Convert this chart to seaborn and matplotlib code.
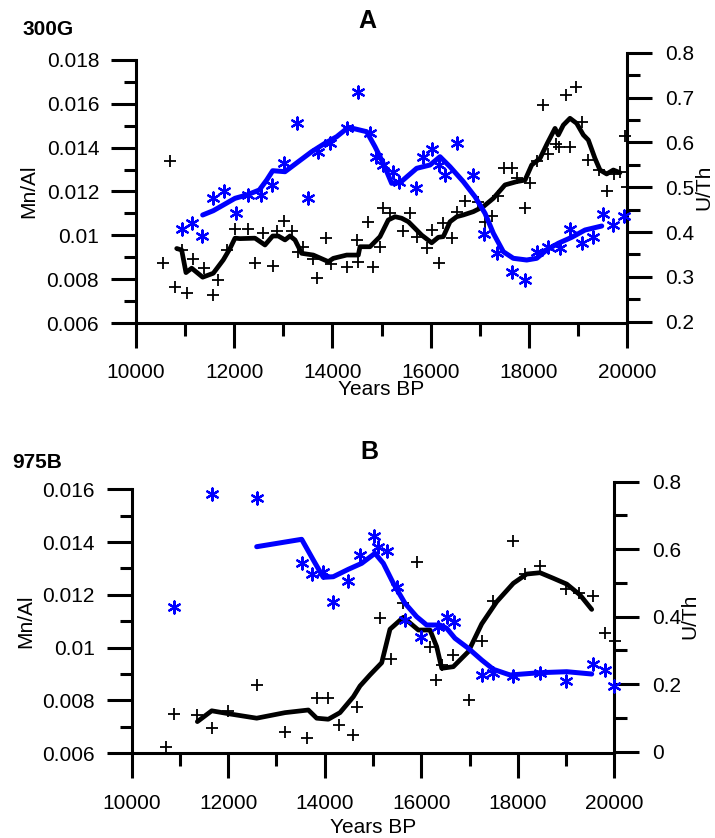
import matplotlib
matplotlib.use("Agg")
import matplotlib.pyplot as plt
from matplotlib.ticker import MultipleLocator, FormatStrFormatter
import seaborn as sns

# ---- panel A (300G) ----
a_mn_yr = [10556, 10692, 10794, 10930, 11032, 11154, 11385, 11574, 11676, 11847,
           12016, 12287, 12424, 12593, 12784, 12866, 13014, 13171, 13293, 13407,
           13611, 13693, 13870, 13971, 14291, 14495, 14528, 14730, 14820, 14969,
           15036, 15173, 15444, 15580, 15716, 15920, 16022, 16177, 16259, 16430,
           16532, 16700, 16972, 17108, 17244, 17379, 17495, 17651, 17753, 17923,
           18024, 18161, 18282, 18397, 18554, 18621, 18758, 18839, 18961, 19077,
           19212, 19436, 19599, 19735, 19857, 19959, 19993]
a_mn = [0.00872, 0.01339, 0.00766, 0.00933, 0.00738, 0.00891, 0.0085, 0.00728, 0.00796, 0.00933,
        0.01028, 0.0103, 0.00872, 0.0101, 0.00862, 0.01021, 0.01065, 0.01021, 0.00925, 0.00945,
        0.00891, 0.00804, 0.00988, 0.00869, 0.00857, 0.00979, 0.0088, 0.01062, 0.00857, 0.00948,
        0.01123, 0.011, 0.01021, 0.011, 0.00994, 0.00941, 0.01024, 0.00872, 0.01055, 0.00987,
        0.01108, 0.01158, 0.01153, 0.01062, 0.01088, 0.0118, 0.01306, 0.01306, 0.0126, 0.01123,
        0.0124, 0.01341, 0.01595, 0.01371, 0.01417, 0.01404, 0.0164, 0.01404, 0.01678, 0.01519,
        0.01344, 0.01298, 0.01204, 0.0128, 0.0129, 0.01453, 0.01222]
a_mn_line_yr = [10829, 10930, 11018, 11134, 11358, 11574, 11778, 11914, 12016, 12117,
                12424, 12627, 12784, 12898, 13035, 13136, 13238, 13374, 13611, 13917,
                14019, 14291, 14528, 14562, 14766, 14969, 15036, 15138, 15275, 15411,
                15547, 15716, 15818, 16022, 16157, 16259, 16395, 16532, 16667, 16870,
                17074, 17278, 17515, 17753, 17923, 18059, 18228, 18377, 18534, 18601,
                18703, 18839, 18975, 19111, 19212, 19348, 19450, 19586, 19721, 19857]
a_mn_line = [0.0094, 0.00933, 0.0083, 0.0085, 0.00809, 0.00827, 0.00888, 0.0094, 0.00987, 0.00985,
             0.00987, 0.00956, 0.00997, 0.00997, 0.00979, 0.00997, 0.00979, 0.00918, 0.0091, 0.0088,
             0.00895, 0.0091, 0.0091, 0.00948, 0.00948, 0.00994, 0.01024, 0.0107, 0.01085, 0.01078,
             0.01062, 0.01024, 0.01001, 0.00966, 0.00991, 0.00994, 0.01062, 0.01085, 0.01093, 0.01108,
             0.01131, 0.01169, 0.0123, 0.01245, 0.01252, 0.01321, 0.01351, 0.0142, 0.01488, 0.01458,
             0.01503, 0.01534, 0.01511, 0.01458, 0.01435, 0.01351, 0.01298, 0.0128, 0.01298, 0.01286]
a_uth_yr = [10930, 11147, 11338, 11562, 11792, 12030, 12287, 12546, 12764, 13014,
            13269, 13493, 13707, 13951, 14291, 14528, 14766, 14888, 15036, 15227,
            15363, 15702, 15838, 16022, 16177, 16293, 16545, 16857, 17088, 17359,
            17651, 17923, 18173, 18397, 18635, 18839, 19077, 19300, 19504, 19721, 19939]
a_uth = [0.406, 0.4195, 0.391, 0.4752, 0.4915, 0.4431, 0.4826, 0.4826, 0.5049, 0.5547,
         0.6439, 0.4766, 0.5792, 0.5993, 0.6314, 0.713, 0.6202, 0.568, 0.5495, 0.5346,
         0.5123, 0.4975, 0.568, 0.5845, 0.5495, 0.5272, 0.5993, 0.5272, 0.395, 0.3526,
         0.3115, 0.293, 0.3561, 0.3659, 0.3637, 0.406, 0.3762, 0.3882, 0.4402, 0.4157, 0.4357]
a_uth_line_yr = [11358, 11574, 11778, 12016, 12254, 12511, 12662, 12784, 13035, 13306,
                 13578, 13849, 14088, 14325, 14698, 14868, 15036, 15207, 15377, 15716,
                 15988, 16191, 16395, 16667, 16904, 17108, 17278, 17481, 17685, 17957,
                 18161, 18364, 18601, 18873, 19145, 19485]
a_uth_line = [0.438, 0.4476, 0.4603, 0.4752, 0.4826, 0.4937, 0.516, 0.5368, 0.5346, 0.5569,
              0.5792, 0.598, 0.6127, 0.6336, 0.6238, 0.5903, 0.5533, 0.5087, 0.51, 0.5421,
              0.5495, 0.568, 0.5457, 0.5123, 0.4788, 0.4418, 0.3972, 0.3561, 0.3414, 0.3376,
              0.3414, 0.36, 0.3749, 0.3882, 0.4045, 0.4134]

# ---- panel B (975B) ----
b_mn_yr = [10711, 10877, 11360, 11658, 12002, 12590, 13177, 13639, 13846, 14074,
           14302, 14592, 14662, 15145, 15367, 15628, 15918, 16181, 16299, 16424,
           16664, 16995, 17252, 17480, 17895, 18150, 18461, 18999, 19275, 19552,
           19807, 20015]
b_mn = [0.00625, 0.00749, 0.00745, 0.00695, 0.00761, 0.00859, 0.00682, 0.00657, 0.00808, 0.00808,
        0.00707, 0.00669, 0.00777, 0.01111, 0.00956, 0.01168, 0.01326, 0.01002, 0.00878, 0.00934,
        0.00972, 0.00802, 0.01025, 0.01178, 0.01405, 0.01279, 0.0131, 0.01221, 0.01206, 0.01196,
        0.01057, 0.01027]
b_mn_line_yr = [11360, 11658, 12037, 12590, 13177, 13660, 13833, 14074, 14316, 14592,
                14731, 14938, 15180, 15352, 15628, 15939, 16181, 16319, 16424, 16664,
                16975, 17252, 17563, 17908, 18184, 18461, 18736, 19014, 19289, 19532]
b_mn_line = [0.0072, 0.00761, 0.00749, 0.00733, 0.00754, 0.00764, 0.00733, 0.00729, 0.00754, 0.00814,
             0.00855, 0.00897, 0.00943, 0.0107, 0.01115, 0.01067, 0.01067, 0.01004, 0.00922, 0.00928,
             0.00985, 0.0109, 0.01174, 0.01244, 0.01279, 0.01284, 0.01263, 0.01241, 0.012, 0.01145]
b_uth_yr = [10877, 11658, 12590, 13522, 13730, 13958, 14165, 14489, 14731, 15021,
            15110, 15297, 15491, 15663, 15989, 16353, 16527, 16678, 17252, 17480,
            17895, 18461, 18999, 19566, 19807, 20000]
b_uth = [0.4279, 0.7636, 0.7508, 0.56, 0.5265, 0.5333, 0.4444, 0.5067, 0.5828, 0.6391,
         0.6056, 0.5956, 0.4871, 0.3902, 0.339, 0.3686, 0.3982, 0.3852, 0.2273, 0.2323,
         0.2243, 0.2323, 0.2104, 0.2599, 0.2421, 0.1947]
b_uth_line_yr = [12590, 13522, 13763, 13970, 14177, 14489, 14766, 15041, 15214, 15421,
                 15663, 15905, 16112, 16388, 16527, 16699, 16975, 17252, 17493, 17839,
                 18461, 19014, 19532]
b_uth_line = [0.6074, 0.6293, 0.568, 0.5167, 0.5185, 0.5404, 0.5582, 0.5878, 0.5582, 0.499,
              0.4397, 0.4, 0.3754, 0.3754, 0.3656, 0.336, 0.3064, 0.2717, 0.2441, 0.2273,
              0.2341, 0.237, 0.2302]

sns.set_style("ticks")
plt.rcParams['font.family'] = ['Liberation Sans', 'DejaVu Sans']
plt.rcParams['axes.linewidth'] = 2.2
for key in ('text.color', 'axes.labelcolor', 'axes.edgecolor', 'xtick.color', 'ytick.color'):
    plt.rcParams[key] = 'black'

W, H = 715, 838
fig = plt.figure(figsize=(W / 100, H / 100), dpi=100)
BLUE = '#0000ff'
ASTER = (6, 2, 0)


def box(x0, x1, ytop, ybot):
    # pixel box -> figure fraction
    return [x0 / W, 1 - ybot / H, (x1 - x0) / W, (ybot - ytop) / H]


def style_ticks(ax, axis, side_pad):
    ax.tick_params(axis=axis, which='major', direction='out', length=18, width=2.2,
                   labelsize=15, pad=side_pad)
    ax.tick_params(axis=axis, which='minor', direction='out', length=9, width=2.2)


def panel(x0, x1, l_top, l_bot, r_top, r_bot, mn_yr, mn, mnl_yr, mnl,
          uth_yr, uth, uthl_yr, uthl, ylim_l, ylim_r, r_major, r_minor, xlab_y):
    axl = fig.add_axes(box(x0, x1, l_top, l_bot))
    axr = fig.add_axes(box(x0, x1, r_top, r_bot))
    axr.patch.set_visible(False)

    sns.scatterplot(x=mn_yr, y=mn, ax=axl, marker='+', s=70, color='black',
                    linewidth=1.3, clip_on=False, zorder=3)
    sns.lineplot(x=mnl_yr, y=mnl, ax=axl, color='black', lw=3.4,
                 estimator=None, sort=False, zorder=4)
    sns.scatterplot(x=uth_yr, y=uth, ax=axr, marker=ASTER, s=75, color=BLUE,
                    linewidth=1.6, clip_on=False, zorder=3)
    sns.lineplot(x=uthl_yr, y=uthl, ax=axr, color=BLUE, lw=3.6,
                 estimator=None, sort=False, zorder=4)

    for ax in (axl, axr):
        ax.set_xlim(10000, 20000)
    axl.set_ylim(*ylim_l)
    axr.set_ylim(*ylim_r)

    axl.spines['top'].set_visible(False)
    axl.spines['right'].set_visible(False)
    for s in ('top', 'left', 'bottom'):
        axr.spines[s].set_visible(False)
    axr.xaxis.set_visible(False)
    axr.yaxis.tick_right()
    axr.yaxis.set_label_position('right')

    axl.xaxis.set_major_locator(MultipleLocator(2000))
    axl.xaxis.set_minor_locator(MultipleLocator(1000))
    axl.yaxis.set_major_locator(MultipleLocator(0.002))
    axl.yaxis.set_minor_locator(MultipleLocator(0.001))
    axl.yaxis.set_major_formatter(FormatStrFormatter('%g'))
    axl.xaxis.set_major_formatter(FormatStrFormatter('%g'))
    axr.yaxis.set_major_locator(MultipleLocator(r_major))
    axr.yaxis.set_minor_locator(MultipleLocator(r_minor))
    axr.yaxis.set_major_formatter(FormatStrFormatter('%g'))

    style_ticks(axl, 'x', 11)
    style_ticks(axl, 'y', 8.5)
    style_ticks(axr, 'y', 9.5)

    axl.set_xlabel('Years BP', fontsize=15)
    axl.set_ylabel('Mn/Al', fontsize=15)
    axr.set_ylabel('U/Th', fontsize=15)
    axl.xaxis.set_label_coords(0.5, xlab_y)
    axl.yaxis.set_label_coords(-0.2, 0.5)
    axr.yaxis.set_label_coords(1.137, 0.5)
    return axl, axr


panel(136, 627, 60, 323, 52.7, 321.7, a_mn_yr, a_mn, a_mn_line_yr, a_mn_line,
      a_uth_yr, a_uth, a_uth_line_yr, a_uth_line, (0.006, 0.018), (0.2, 0.8), 0.1, 0.05,
      -0.217)
panel(131.7, 614.3, 489.3, 753.3, 481.7, 751.7, b_mn_yr, b_mn, b_mn_line_yr, b_mn_line,
      b_uth_yr, b_uth, b_uth_line_yr, b_uth_line, (0.006, 0.016), (0, 0.8), 0.2, 0.1,
      -0.245)

# panel letters and core names
fig.text(367.5 / W, 1 - 28 / H, 'A', ha='center', va='baseline', fontsize=18, fontweight='bold')
fig.text(369.5 / W, 1 - 459 / H, 'B', ha='center', va='baseline', fontsize=18, fontweight='bold')
fig.text(23 / W, 1 - 35 / H, '300G', ha='left', va='baseline', fontsize=15, fontweight='bold')
fig.text(12 / W, 1 - 468 / H, '975B', ha='left', va='baseline', fontsize=15, fontweight='bold')

fig.savefig('out.png', dpi=100)
